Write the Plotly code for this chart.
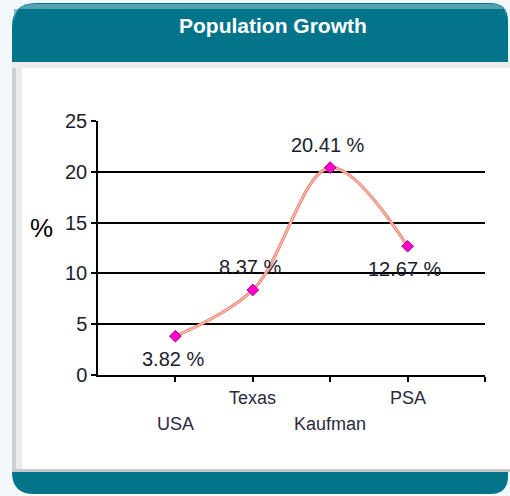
import plotly.graph_objects as go

categories = ["USA", "Texas", "Kaufman", "PSA"]
growth = [3.82, 8.37, 20.41, 12.67]
label_row = ["lower", "upper", "lower", "upper"]
label_side = ["below", "above", "above", "below"]
y_ticks = [0, 5, 10, 15, 20, 25]
title_text = "Population Growth"
y_title = "%"

W, H = 510, 496


def px(x):
    return x / W


def py(y):
    return 1 - y / H


xpos = list(range(1, len(categories) + 1))
TEAL = "#03748a"

fig = go.Figure()

# line (outer salmon + lighter core)
fig.add_trace(go.Scatter(x=xpos, y=growth, mode="lines",
                         line=dict(shape="spline", smoothing=1, color="#ee8a7c", width=3.2),
                         hoverinfo="skip", showlegend=False))
fig.add_trace(go.Scatter(x=xpos, y=growth, mode="lines",
                         line=dict(shape="spline", smoothing=1, color="#fbd0c8", width=1),
                         hoverinfo="skip", showlegend=False))
fig.add_trace(go.Scatter(x=xpos, y=growth, mode="markers",
                         marker=dict(symbol="diamond", size=9, color="#ff00cc",
                                     line=dict(color="#b0007e", width=1)),
                         showlegend=False))

annotations = []
for xi, v, side in zip(xpos, growth, label_side):
    annotations.append(dict(x=xi - 0.03, y=v, xref="x", yref="y", text=f"{v:.2f} %",
                            showarrow=False, xanchor="center", yanchor="middle",
                            yshift=23 if side == "above" else -23,
                            font=dict(family="Liberation Sans, Arial", size=20, color="#1c1c30")))
for xi, c, row in zip(xpos, categories, label_row):
    annotations.append(dict(x=xi, y=py(424) if row == "lower" else py(398), xref="x", yref="paper",
                            text=c, showarrow=False, xanchor="center", yanchor="middle",
                            font=dict(family="Liberation Sans, Arial", size=18, color="#2a2a40")))
annotations.append(dict(x=px(273), y=py(25), xref="paper", yref="paper", text=f"<b>{title_text}</b>",
                        showarrow=False, xanchor="center", yanchor="middle",
                        font=dict(family="Liberation Sans, Arial", size=21, color="white")))
annotations.append(dict(x=px(41), y=py(228), xref="paper", yref="paper", text=y_title,
                        showarrow=False, xanchor="center", yanchor="middle",
                        font=dict(family="Liberation Sans, Arial", size=26, color="black")))


def rounded_path(x0, y0, x1, y1, rtl, rtr, rbr, rbl):
    X0, X1 = px(x0), px(x1)
    def Y(v):
        return py(v)
    p = f"M {px(x0 + rtl)},{Y(y0)} L {px(x1 - rtr)},{Y(y0)} "
    p += f"Q {X1},{Y(y0)} {X1},{Y(y0 + rtr)} "
    p += f"L {X1},{Y(y1 - rbr)} Q {X1},{Y(y1)} {px(x1 - rbr)},{Y(y1)} "
    p += f"L {px(x0 + rbl)},{Y(y1)} Q {X0},{Y(y1)} {X0},{Y(y1 - rbl)} "
    p += f"L {X0},{Y(y0 + rtl)} Q {X0},{Y(y0)} {px(x0 + rtl)},{Y(y0)} Z"
    return p


shapes = [
    # body
    dict(type="rect", xref="paper", yref="paper", x0=px(12), x1=px(510), y0=py(472), y1=py(60),
         fillcolor="white", line=dict(width=0), layer="below"),
    dict(type="rect", xref="paper", yref="paper", x0=px(12), x1=px(16), y0=py(470), y1=py(60),
         fillcolor="#cfcfcf", line=dict(width=0), layer="below"),
    dict(type="rect", xref="paper", yref="paper", x0=px(16), x1=px(22), y0=py(470), y1=py(60),
         fillcolor="#ececec", line=dict(width=0), layer="below"),
    dict(type="rect", xref="paper", yref="paper", x0=px(12), x1=px(510), y0=py(68), y1=py(61),
         fillcolor="#ececec", line=dict(width=0), layer="below"),
    dict(type="rect", xref="paper", yref="paper", x0=px(12), x1=px(510), y0=py(472), y1=py(469),
         fillcolor="#c8c8c8", line=dict(width=0), layer="below"),
    # header
    dict(type="path", xref="paper", yref="paper", path=rounded_path(12, 3, 508, 62, 24, 18, 0, 0),
         fillcolor=TEAL, line=dict(width=0), layer="below"),
    dict(type="path", xref="paper", yref="paper", path=rounded_path(14, 4, 506, 9, 20, 14, 0, 0),
         fillcolor="#68aebb", line=dict(width=0), layer="below", opacity=0.8),
    # footer
    dict(type="path", xref="paper", yref="paper", path=rounded_path(12, 472, 508, 494, 0, 0, 18, 22),
         fillcolor=TEAL, line=dict(width=0), layer="below"),
]

fig.update_layout(
    width=W, height=H,
    margin=dict(l=0, r=0, t=0, b=0, pad=0, autoexpand=False),
    paper_bgcolor="#f2f8fc",
    plot_bgcolor="rgba(0,0,0,0)",
    showlegend=False,
    annotations=annotations,
    shapes=shapes,
    xaxis=dict(domain=[px(98), px(485)], range=[0, 5], tickmode="array",
               tickvals=xpos + [len(categories) + 1], ticktext=[""] * (len(categories) + 1),
               ticks="outside", ticklen=5, tickcolor="black", tickwidth=1.5,
               showline=True, linecolor="black", linewidth=1.5, showgrid=False, zeroline=False,
               fixedrange=True, automargin=False),
    yaxis=dict(domain=[py(375), py(121)], range=[0, 25], tickmode="array", tickvals=y_ticks,
               ticks="outside", ticklen=5, tickcolor="black", tickwidth=1.5,
               showline=True, linecolor="black", linewidth=1.5,
               showgrid=True, gridcolor="black", gridwidth=1.5, zeroline=False,
               tickfont=dict(family="Liberation Sans, Arial", size=20, color="#1c1c30"),
               fixedrange=True, automargin=False),
)

fig.write_html("out.html", config={"displayModeBar": False},
               post_script="document.body.style.margin='0px';document.body.style.overflow='hidden';")
